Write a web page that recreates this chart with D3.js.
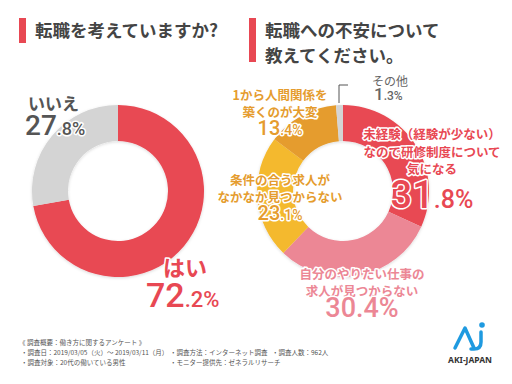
<!DOCTYPE html>
<html>
<head>
<meta charset="utf-8">
<script src="https://cdn.jsdelivr.net/npm/d3@7"></script>
<style>
  html, body { margin: 0; padding: 0; background: #fff; }
  svg { display: block; font-family: "Noto Sans CJK JP", "Noto Sans", sans-serif; }
  .halo { paint-order: stroke; stroke: #fff; stroke-linejoin: round; }
</style>
</head>
<body>
<svg id="chart" width="512" height="384"></svg>
<script>
'use strict';

// Q1: 転職を考えていますか?
var q1Labels = ['はい', 'いいえ'];
var q1Values = [72.2, 27.8];
var q1Colors = ['#e84853', '#d4d4d4'];

// Q2: 転職への不安
var q2Labels = [
  ['未経験（経験が少ない）', 'なので研修制度について', '気になる'],
  ['自分のやりたい仕事の', '求人が見つからない'],
  ['条件の合う求人が', 'なかなか見つからない'],
  ['1から人間関係を', '築くのが大変'],
  ['その他']
];
var q2Values = [31.8, 30.4, 23.1, 13.4, 1.3];
var q2Colors = ['#e84853', '#ec8795', '#f4b92f', '#e59c2e', '#d4d4d4'];

var footLines = [
  '《 調査概要：働き方に関するアンケート 》',
  '・調査日：2019/03/05（火）～ 2019/03/11（月）',
  '・調査方法：インターネット調査',
  '・調査人数：962人',
  '・調査対象：20代の働いている男性',
  '・モニター提供先：ゼネラルリサーチ'
];

var svg = d3.select('#chart');

var defs = svg.append('defs');
var shadow = defs.append('filter').attr('id', 'soft').attr('x', '-20%').attr('y', '-20%').attr('width', '140%').attr('height', '140%');
shadow.append('feDropShadow').attr('dx', 0).attr('dy', 1).attr('stdDeviation', 1.5).attr('flood-color', '#000').attr('flood-opacity', 0.15);

// titles
function title(x, lines, barH) {
  svg.append('rect').attr('x', x).attr('y', 18).attr('width', 7).attr('height', barH).attr('fill', '#e84853');
  lines.forEach(function(t, i) {
    svg.append('text').attr('x', x + 16).attr('y', 37 + i * 25)
      .attr('font-size', 17.5).attr('font-weight', 'bold').attr('fill', '#444').text(t);
  });
}
title(19, ['転職を考えていますか?'], 25);
title(249, ['転職への不安について', '教えてください。'], 44);

var pie = d3.pie().sort(null).value(function(d) { return d; });
var arc = d3.arc().innerRadius(50).outerRadius(86);

function donut(cx, cy, values, colors) {
  var g = svg.append('g').attr('transform', 'translate(' + cx + ',' + cy + ')').attr('filter', 'url(#soft)');
  g.selectAll('path').data(pie(values)).enter().append('path')
    .attr('d', arc).attr('fill', function(d, i) { return colors[i]; });
}
donut(118, 191, q1Values, q1Colors);
donut(343, 191, q2Values, q2Colors);

// percentage text: big integer part, small decimal part
function pct(x, y, v, big, small, color, anchor) {
  var s = v.toFixed(1).split('.');
  var t = svg.append('text').attr('class', 'halo').attr('x', x).attr('y', y)
    .attr('text-anchor', anchor || 'middle').attr('fill', color)
    .attr('stroke-width', 3).attr('font-family', 'Roboto, "Noto Sans", sans-serif').attr('font-weight', 500);
  t.append('tspan').attr('font-size', big).text(s[0]);
  t.append('tspan').attr('font-size', small).text('.' + s[1] + '%');
}

function label(x, y, lines, size, color, lh) {
  lines.forEach(function(l, i) {
    svg.append('text').attr('class', 'halo').attr('x', x).attr('y', y + i * lh)
      .attr('text-anchor', 'middle').attr('font-size', size).attr('font-weight', 'bold')
      .attr('stroke-width', 3).attr('fill', color).text(l);
  });
}

// left donut labels
svg.append('text').attr('class', 'halo').attr('x', 28).attr('y', 110).attr('font-size', 17)
  .attr('font-weight', 'bold').attr('stroke-width', 3).attr('fill', '#555').text(q1Labels[1]);
pct(25, 135, q1Values[1], 28, 18, '#555', 'start');
svg.append('text').attr('class', 'halo').attr('x', 163).attr('y', 276).attr('font-size', 22)
  .attr('font-weight', 'bold').attr('stroke-width', 3).attr('fill', '#e84853').text(q1Labels[0]);
pct(146, 307, q1Values[0], 34, 22, '#e84853', 'start');

// right donut labels
label(432, 139, q2Labels[0], 12.5, '#e84853', 17.5);
pct(432, 208, q2Values[0], 38, 25, '#e84853');

label(362, 279, q2Labels[1], 12.5, '#ec8795', 16.5);
pct(362, 317, q2Values[1], 27, 27, '#ec8795');

label(280, 185, q2Labels[2], 12.5, '#e59c2e', 16.5);
pct(280, 220, q2Values[2], 20, 14, '#e59c2e');

label(280, 100, q2Labels[3], 12.5, '#e59c2e', 17);
pct(280, 135, q2Values[3], 20, 14, '#e59c2e');

svg.append('text').attr('x', 372).attr('y', 86).attr('font-size', 12).attr('fill', '#666').text(q2Labels[4][0]);
pct(374, 100, q2Values[4], 17, 12, '#666', 'start');
svg.append('path').attr('d', 'M339,103 V85 H348').attr('fill', 'none').attr('stroke', '#555').attr('stroke-width', 1);

// footer
var foot = svg.append('g').attr('font-size', 6.5).attr('fill', '#555');
foot.append('text').attr('x', 19).attr('y', 345).text(footLines[0]);
foot.append('text').attr('x', 21).attr('y', 355).text(footLines[1]);
foot.append('text').attr('x', 170).attr('y', 355).text(footLines[2]);
foot.append('text').attr('x', 272).attr('y', 355).text(footLines[3]);
foot.append('text').attr('x', 21).attr('y', 365).text(footLines[4]);
foot.append('text').attr('x', 170).attr('y', 365).text(footLines[5]);

// logo
var logo = svg.append('g').attr('stroke', '#1f9ae0').attr('fill', 'none').attr('stroke-linecap', 'round');
logo.append('path').attr('d', 'M455,348 L465,328 L474,348').attr('stroke-width', 3.5).attr('stroke-linejoin', 'round');
logo.append('path').attr('d', 'M481,332 V342 Q481,349 474,349 H471').attr('stroke-width', 3.5);
svg.append('circle').attr('cx', 482).attr('cy', 325).attr('r', 2.8).attr('fill', '#1f9ae0');
svg.append('text').attr('x', 470).attr('y', 363).attr('text-anchor', 'middle').attr('font-size', 8.5)
  .attr('font-weight', 'bold').attr('font-family', '"Noto Sans", sans-serif').attr('fill', '#333').text('AKI-JAPAN');
</script>
</body>
</html>
